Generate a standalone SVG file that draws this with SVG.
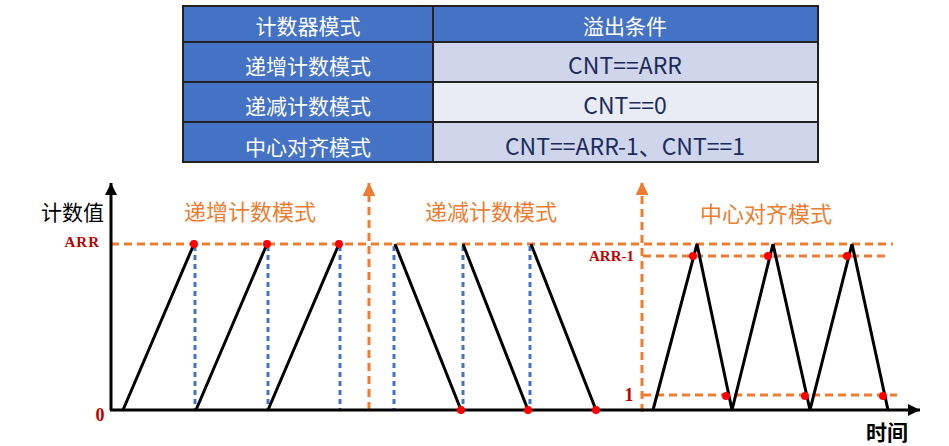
<svg xmlns="http://www.w3.org/2000/svg" width="949" height="446" viewBox="0 0 949 446">
<defs>
<style>
.hdr{fill:#4472C4}
.r1{fill:#CFD5EA}
.r2{fill:#E9EBF5}
.grid{stroke:#222;stroke-width:2;fill:none}
.tw{font-family:"Noto Sans CJK SC","Noto Sans",sans-serif;font-size:21px;fill:#fff;text-anchor:middle}
.td{font-family:"Noto Sans CJK SC","Noto Sans",sans-serif;font-size:23px;fill:#1c2b5a;text-anchor:middle}
.axis{stroke:#000;stroke-width:3;fill:none}
.wave{stroke:#000;stroke-width:3;fill:none;stroke-linejoin:miter}
.od{stroke:#ED7D31;stroke-width:3;stroke-dasharray:8 5;fill:none}
.bd{stroke:#4472C4;stroke-width:3;stroke-dasharray:5 4;fill:none}
.dot{fill:#FF0000}
.lab{font-family:"Noto Sans CJK SC","Noto Sans",sans-serif;font-size:22px;fill:#ED7D31;text-anchor:middle}
.blk{font-family:"Noto Sans CJK SC","Noto Sans",sans-serif;font-size:21px;fill:#000}
.red{font-family:"Liberation Serif",serif;fill:#C00000}
</style>
<marker id="ab" viewBox="0 0 10 10" refX="10" refY="5" markerWidth="6" markerHeight="4" markerUnits="strokeWidth" orient="auto"><path d="M0,0 L10,5 L0,10 z" fill="#000"/></marker>
<marker id="ao" viewBox="0 0 10 10" refX="10" refY="5" markerWidth="6" markerHeight="4.3" markerUnits="strokeWidth" orient="auto"><path d="M0,0 L10,5 L0,10 z" fill="#ED7D31"/></marker>
</defs>
<rect width="949" height="446" fill="#fff"/>

<g id="table">
<rect class="hdr" x="183" y="6" width="635" height="36"/>
<rect class="hdr" x="183" y="42" width="250" height="120"/>
<rect class="r1" x="433" y="42" width="385" height="40"/>
<rect class="r2" x="433" y="82" width="385" height="40"/>
<rect class="r1" x="433" y="122" width="385" height="40"/>
<path class="grid" d="M183,6 H818 V162 H183 Z M183,42 H818 M183,82 H818 M183,122 H818 M433,6 V162"/>
<text class="tw" x="308" y="34">计数器模式</text>
<text class="tw" x="625" y="34">溢出条件</text>
<text class="tw" x="308" y="74">递增计数模式</text>
<text class="td" x="625" y="74">CNT==ARR</text>
<text class="tw" x="308" y="114">递减计数模式</text>
<text class="td" x="625" y="114">CNT==0</text>
<text class="tw" x="308" y="155">中心对齐模式</text>
<text class="td" x="625" y="155">CNT==ARR-1、CNT==1</text>
</g>

<g id="connectors">
<line class="od" x1="111" y1="244" x2="893" y2="244"/>
<line class="od" x1="643" y1="256" x2="889" y2="256"/>
<line class="od" x1="643" y1="395" x2="897" y2="395"/>
<line class="bd" x1="195" y1="246" x2="195" y2="410"/>
<line class="bd" x1="268" y1="246" x2="268" y2="410"/>
<line class="bd" x1="340" y1="246" x2="340" y2="410"/>
<line class="bd" x1="394" y1="246" x2="394" y2="410"/>
<line class="bd" x1="463" y1="246" x2="463" y2="410"/>
<line class="bd" x1="530" y1="246" x2="530" y2="410"/>
<line class="od" x1="369" y1="410" x2="369" y2="183" marker-end="url(#ao)"/>
<line class="od" x1="642" y1="412" x2="642" y2="182" marker-end="url(#ao)"/>
<line class="axis" x1="111" y1="410" x2="111" y2="183" marker-end="url(#ab)"/>
<line class="axis" x1="110" y1="410" x2="920" y2="410" marker-end="url(#ab)"/>
</g>

<g id="up-count">
<path class="wave" d="M123,410 L194,244 M196,410 L267,244 M268,410 L339,244"/>
<circle class="dot" cx="194" cy="244" r="4"/>
<circle class="dot" cx="267" cy="244" r="4"/>
<circle class="dot" cx="339" cy="244" r="4"/>
<text class="lab" x="250" y="220">递增计数模式</text>
</g>

<g id="down-count">
<path class="wave" d="M395,244 L461,410 M463,244 L528,410 M531,244 L596,410"/>
<circle class="dot" cx="461" cy="410" r="4"/>
<circle class="dot" cx="528" cy="410" r="4"/>
<circle class="dot" cx="596" cy="410" r="4"/>
<text class="lab" x="491" y="220">递减计数模式</text>
</g>

<g id="center-aligned">
<polyline class="wave" points="653,410 697,244 732,410 773,244 810,410 852,244 888,410"/>
<circle class="dot" cx="693" cy="256" r="4"/>
<circle class="dot" cx="768" cy="256" r="4"/>
<circle class="dot" cx="847" cy="256" r="4"/>
<circle class="dot" cx="726" cy="396" r="4"/>
<circle class="dot" cx="805" cy="396" r="4"/>
<circle class="dot" cx="883" cy="396" r="4"/>
<text class="lab" x="766" y="222">中心对齐模式</text>
</g>

<g id="axis-labels">
<text class="blk" x="41" y="220">计数值</text>
<text class="blk" x="866" y="440" font-weight="bold">时间</text>
<text class="red" x="100" y="247" font-size="15" font-weight="bold" text-anchor="end" letter-spacing="1">ARR</text>
<text class="red" x="634" y="261" font-size="15" font-weight="bold" text-anchor="end">ARR-1</text>
<text class="red" x="100" y="421" font-size="18" font-weight="bold" text-anchor="middle">0</text>
<text class="red" x="629" y="401" font-size="18" font-weight="bold" text-anchor="middle">1</text>
</g>
</svg>
